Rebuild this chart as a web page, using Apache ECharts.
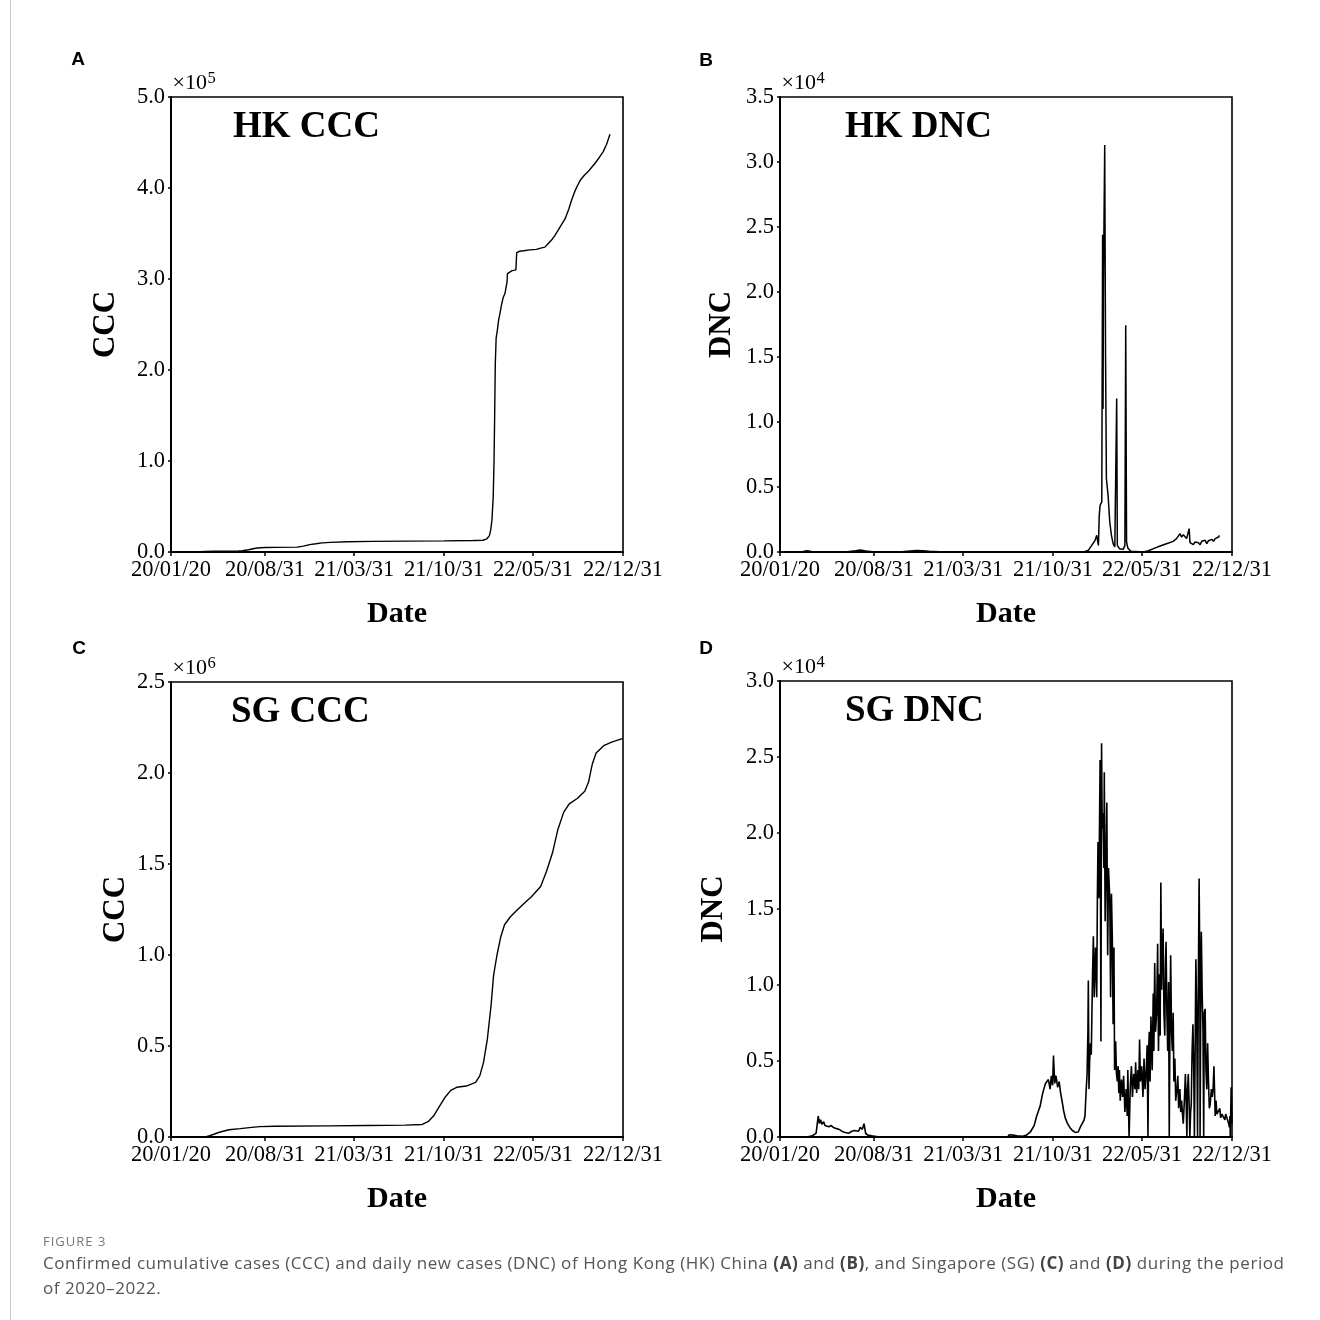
<!DOCTYPE html>
<html>
<head>
<meta charset="utf-8">
<script src="https://cdn.jsdelivr.net/npm/echarts@6/dist/echarts.min.js"></script>
<style>
html,body{margin:0;padding:0;background:#fff;}
#wrap{position:relative;width:1320px;height:1320px;overflow:hidden;background:#fff;}
#frame{position:absolute;left:10px;top:0;width:1400px;height:1400px;border-left:1px solid #c8c8c8;}
#chart{position:absolute;left:0;top:0;width:1320px;height:1320px;}
#fig{position:absolute;left:43px;top:1233px;font-family:'Open Sans';font-size:13px;line-height:16px;color:#777;letter-spacing:1px;}
#txt{position:absolute;left:43px;top:1250px;width:1270px;font-family:'Open Sans';font-size:17px;line-height:25px;color:#555;white-space:nowrap;letter-spacing:0.55px;}
#txt b{font-weight:700;color:#444;}
</style>
</head>
<body>
<div id="wrap">
  <div id="frame"></div>
  <div id="chart"></div>
  <div id="fig">FIGURE 3</div>
  <div id="txt">Confirmed cumulative cases (CCC) and daily new cases (DNC) of Hong Kong (HK) China <b>(A)</b> and <b>(B)</b>, and Singapore (SG) <b>(C)</b> and <b>(D)</b> during the period<br>of 2020–2022.</div>
</div>
<script>
// ---------------- data ----------------
// x = days since 2020-01-20 ; y = cases
const startDate = '20/01/20';
const tickLabels = ['20/01/20', '20/08/31', '21/03/31', '21/10/31', '22/05/31', '22/12/31'];

const hkCCC = [
  [0,0],[40,100],[60,150],[80,700],[100,1000],[160,1200],[170,1400],[185,2500],[195,3600],[205,4400],
  [223,4900],[250,5100],[300,5400],[315,6500],[330,8100],[345,9000],[360,10000],[380,10600],[420,11300],
  [480,11700],[560,11900],[650,12200],[720,12600],[743,12900],[752,14500],[758,18000],[761,24000],
  [764,35000],[767,60000],[769,100000],[770.5,150000],[772,207000],[774,235000],[777,244000],[780,255000],
  [783,262000],[787,272000],[791,280000],[795,284000],[799,286000],[800,297000],[801,306000],[805,308000],
  [811,309000],[821,310000],[822,320000],[823,329000],[830,330500],[839,331000],[855,332000],[870,332500],
  [880,334000],[890,335000],[896,338000],[902,341000],[908,344000],[914,348000],[922,354000],[930,360000],
  [938,366000],[947,377000],[954,387000],[961,396000],[968,403000],[975,409000],[984,414000],[993,418000],
  [1002,423000],[1011,428000],[1020,434000],[1029,440000],[1037,448000],[1045,459000]
];

const hkDNC = [
  [0,0],[40,10],[55,40],[64,90],[75,30],[100,10],[160,20],[180,100],[191,150],[205,80],[220,20],
  [290,10],[310,80],[325,110],[340,90],[355,60],[380,20],[420,5],[700,5],[725,20],
  [734,130],[742,510],[750,900],[754,1280],[758,510],[760,2820],[762,3590],[766,3850],[768,24400],
  [769,11000],[770,20800],[773,31300],[775,15100],[777,5650],[781,4360],[785,2310],[789,1280],
  [793,640],[797,385],[800,510],[801.5,11800],[803,510],[808,257],[812,128],[817,205],[821,510],
  [823,17450],[825,770],[828,300],[835,50],[865,0],[877,100],[889,257],[905,460],[920,640],[936,820],
  [944,1030],[948,1080],[952,1410],[956,1150],[960,1330],[968,1030],[974,1800],[976,720],[980,640],
  [984,560],[988,770],[992,670],[996,720],[1000,560],[1004,820],[1008,720],[1012,900],[1016,640],
  [1020,870],[1024,770],[1028,975],[1032,820],[1036,1030],[1040,1080],[1044,1150],[1046,1280]
];

const sgCCC = [
  [0,0],[82,0],[92,7000],[102,15000],[115,26000],[138,40000],[165,46000],[192,53000],[211,57000],
  [247,59000],[375,61000],[466,63000],[557,65000],[598,69000],[612,84000],[625,115000],[639,168000],
  [653,220000],[666,256000],[680,273000],[703,280000],[725,300000],[735,336000],[744,410000],
  [753,536000],[762,725000],[768,890000],[776,1000000],[785,1100000],[794,1166000],[808,1210000],
  [821,1240000],[839,1280000],[858,1320000],[880,1376000],[894,1460000],[908,1560000],[921,1690000],
  [935,1785000],[948,1830000],[967,1860000],[985,1900000],[994,1950000],[1003,2050000],[1012,2110000],
  [1030,2150000],[1049,2170000],[1076,2190000]
];

const sgDNC = [
  [0,0],[64,0],[77,75],[86,250],[91,1380],[94,880],[96.5,1130],[100,830],[104,1000],[107,750],[111,880],
  [116.5,680],[122,750],[127,630],[135,550],[141,500],[147,380],[155,300],[164,250],[171,380],[177.5,430],
  [182,550],[187,380],[191,630],[196,500],[200,880],[204,230],[209,125],[218,75],[237,0],[542,0],
  [546,150],[555,125],[564,75],[578,50],[587,125],[596,330],[605,750],[611,1380],[619,2000],[624.5,2770],
  [628,3150],[632,3520],[635,3400],[639,3780],[643,3150],[646,4030],[649,3400],[651,5360],[654,3520],
  [657,4030],[661,3270],[664.5,3650],[668,2900],[672,2270],[675,1760],[679,1260],[684.5,880],[690,630],
  [696,430],[703,300],[710,330],[714.6,630],[719,750],[724,1130],[726,1380],[729,3150],[731,4150],
  [733,6920],[734,10300],[735.5,3150],[737,4900],[739,6170],[741,5410],[744,10700],[746,13200],
  [748,9190],[751,12460],[754,9190],[755.5,15700],[757,19400],[759,15700],[762,24800],[764,6290],
  [765.5,25900],[767,20300],[769,21300],[771,17700],[772,24000],[774,14200],[775.6,17000],[778,22000],
  [780,11960],[782,17700],[785,15700],[787,9190],[789,16000],[791,13200],[793,7420],[795,12460],
  [796.5,4400],[799,6290],[801,4150],[803,3650],[805,4660],[806.5,2900],[808,4400],[810,2390],
  [813,3780],[815.6,2640],[818,4030],[821,1640],[824,3150],[826.6,1380],[828,4400],[831,0],[834,3400],
  [836.6,4660],[839,2640],[842,4150],[845,3150],[846.6,4910],[849,2900],[852,4400],[854,3150],
  [856,6420],[858,3650],[861,4660],[864,2640],[866.6,5160],[869,3150],[872,4400],[874,6040],[876,0],
  [877.5,5660],[879,6920],[881,3650],[883,7930],[886,4400],[888.5,9440],[890,5660],[892,11450],
  [894,6920],[896.6,8180],[899,12710],[901,5660],[903,10700],[905,6670],[906.6,16740],[908.5,9690],
  [910,11960],[912,13720],[914,8180],[916,6670],[917.6,11200],[919,12840],[921,8180],[923,5660],
  [925,10200],[926.6,0],[928.5,8180],[930,11960],[932,6920],[934,5660],[936,8180],[937.6,3650],
  [940,5160],[942,2390],[945,3150],[947,4030],[949,1890],[952,3150],[954,1640],[956,2390],[958.5,1380],
  [960,880],[963,2640],[965,4150],[967,2140],[968.6,0],[970,3150],[972,4150],[974,2140],[975.6,0],
  [977.5,1640],[979,2140],[981,5660],[983,7420],[985,4400],[986.5,0],[988.6,6920],[990,11700],
  [992,8180],[994,0],[996,10700],[997.7,17000],[999.5,10700],[1000,0],[1002,10700],[1003,13500],
  [1005,9440],[1007,6920],[1008.6,0],[1010,8180],[1012,8430],[1014,4400],[1016,3150],[1018,6170],
  [1020,3650],[1022,1890],[1024,2140],[1027,3150],[1029,2640],[1031,3150],[1033,4660],[1036,1380],
  [1038,2390],[1040,1510],[1043,1380],[1047,1890],[1049,1260],[1052,1510],[1056,1380],[1059,1130],
  [1061,1510],[1065,1380],[1068,880],[1070,630],[1071,1380],[1072,0],[1074,3270],[1076,880]
];

const panelTitles = ['HK CCC', 'HK DNC', 'SG CCC', 'SG DNC'];
const panelLetters = ['A', 'B', 'C', 'D'];
const yNames = ['CCC', 'DNC', 'CCC', 'DNC'];
const yMax = [500000, 35000, 2500000, 30000];
const yStep = [100000, 5000, 500000, 5000];
const yScaleExp = [5, 4, 6, 4];
const seriesData = [hkCCC, hkDNC, sgCCC, sgDNC];

// ---------------- helpers ----------------
function dayOf(s) {
  const p = s.split('/').map(Number);
  const q = startDate.split('/').map(Number);
  return Math.round((Date.UTC(2000 + p[0], p[1] - 1, p[2]) - Date.UTC(2000 + q[0], q[1] - 1, q[2])) / 86400000);
}
const tickDays = tickLabels.map(dayOf);
const labelByDay = {};
tickDays.forEach((d, i) => { labelByDay[d] = tickLabels[i]; });

// ---------------- layout ----------------
const grids = [
  {left: 171, top: 97, width: 452, height: 455},
  {left: 780, top: 97, width: 452, height: 455},
  {left: 171, top: 682, width: 452, height: 455},
  {left: 780, top: 681, width: 452, height: 456}
];
const yNameGap = [50, 43, 40, 51];
const titlePos = [[233, 127], [845, 127], [231, 712], [845, 711.5]];
const letterPos = [[78, 60], [706, 61], [79, 649], [706, 649]];
const lineWidths = [1.4, 1.5, 1.4, 1.6];

const serif = '"Liberation Serif", "Times New Roman", serif';
const chart = echarts.init(document.getElementById('chart'), null, {renderer: 'canvas'});

const option = {
  animation: false,
  backgroundColor: 'transparent',
  grid: grids.map(g => Object.assign({show: true, borderColor: '#000', borderWidth: 1.6, backgroundColor: 'transparent'}, g)),
  xAxis: grids.map((g, i) => ({
    gridIndex: i, type: 'value', min: 0, max: tickDays[tickDays.length - 1],
    axisLine: {show: true, onZero: false, lineStyle: {color: '#000', width: 2}},
    axisTick: {show: true, inside: false, length: 4, customValues: tickDays, lineStyle: {color: '#000', width: 1.5}},
    axisLabel: {show: true, customValues: tickDays, formatter: v => labelByDay[Math.round(v)] || '', fontFamily: serif, fontSize: 22.5, color: '#000', margin: 7},
    splitLine: {show: false},
    name: 'Date', nameLocation: 'middle', nameGap: 47,
    nameTextStyle: {fontFamily: serif, fontWeight: 'bold', fontSize: 30, color: '#000'}
  })),
  yAxis: grids.map((g, i) => ({
    gridIndex: i, type: 'value', min: 0, max: yMax[i], interval: yStep[i],
    axisLine: {show: true, lineStyle: {color: '#000', width: 2}},
    axisTick: {show: true, inside: false, length: 3, lineStyle: {color: '#000', width: 1.5}},
    axisLabel: {formatter: v => (v / Math.pow(10, yScaleExp[i])).toFixed(1), fontFamily: serif, fontSize: 22.5, color: '#000', margin: 6, padding: [0, 0, 9, 0]},
    splitLine: {show: false},
    name: yNames[i], nameLocation: 'middle', nameGap: yNameGap[i], nameRotate: 90,
    nameTextStyle: {fontFamily: serif, fontWeight: 'bold', fontSize: 31, color: '#000'}
  })),
  series: seriesData.map((d, i) => ({
    type: 'line', xAxisIndex: i, yAxisIndex: i, data: d,
    symbol: 'none', showSymbol: false, smooth: false,
    lineStyle: {color: '#000', width: lineWidths[i]}, silent: true
  })),
  graphic: [].concat(
    grids.map((g, i) => ({type: 'text', x: titlePos[i][0], y: titlePos[i][1], silent: true,
      style: {text: panelTitles[i], fontFamily: serif, fontWeight: 'bold', fontSize: 37, fill: '#000', align: 'left', verticalAlign: 'middle'}})),
    grids.map((g, i) => ({type: 'text', x: letterPos[i][0], y: letterPos[i][1], silent: true,
      style: {text: panelLetters[i], fontFamily: '"Liberation Sans", Arial, sans-serif', fontWeight: 'bold', fontSize: 19, fill: '#000', align: 'center', verticalAlign: 'middle'}})),
    grids.map((g, i) => ({type: 'text', x: g.left + 1.5, y: g.top - 13.5, silent: true,
      style: {text: '×10', fontFamily: serif, fontSize: 22, fill: '#000', align: 'left', verticalAlign: 'middle'}})),
    grids.map((g, i) => ({type: 'text', x: g.left + 36.5, y: g.top - 18.5, silent: true,
      style: {text: String(yScaleExp[i]), fontFamily: serif, fontSize: 16.5, fill: '#000', align: 'left', verticalAlign: 'middle'}}))
  )
};
chart.setOption(option);
</script>
</body>
</html>
